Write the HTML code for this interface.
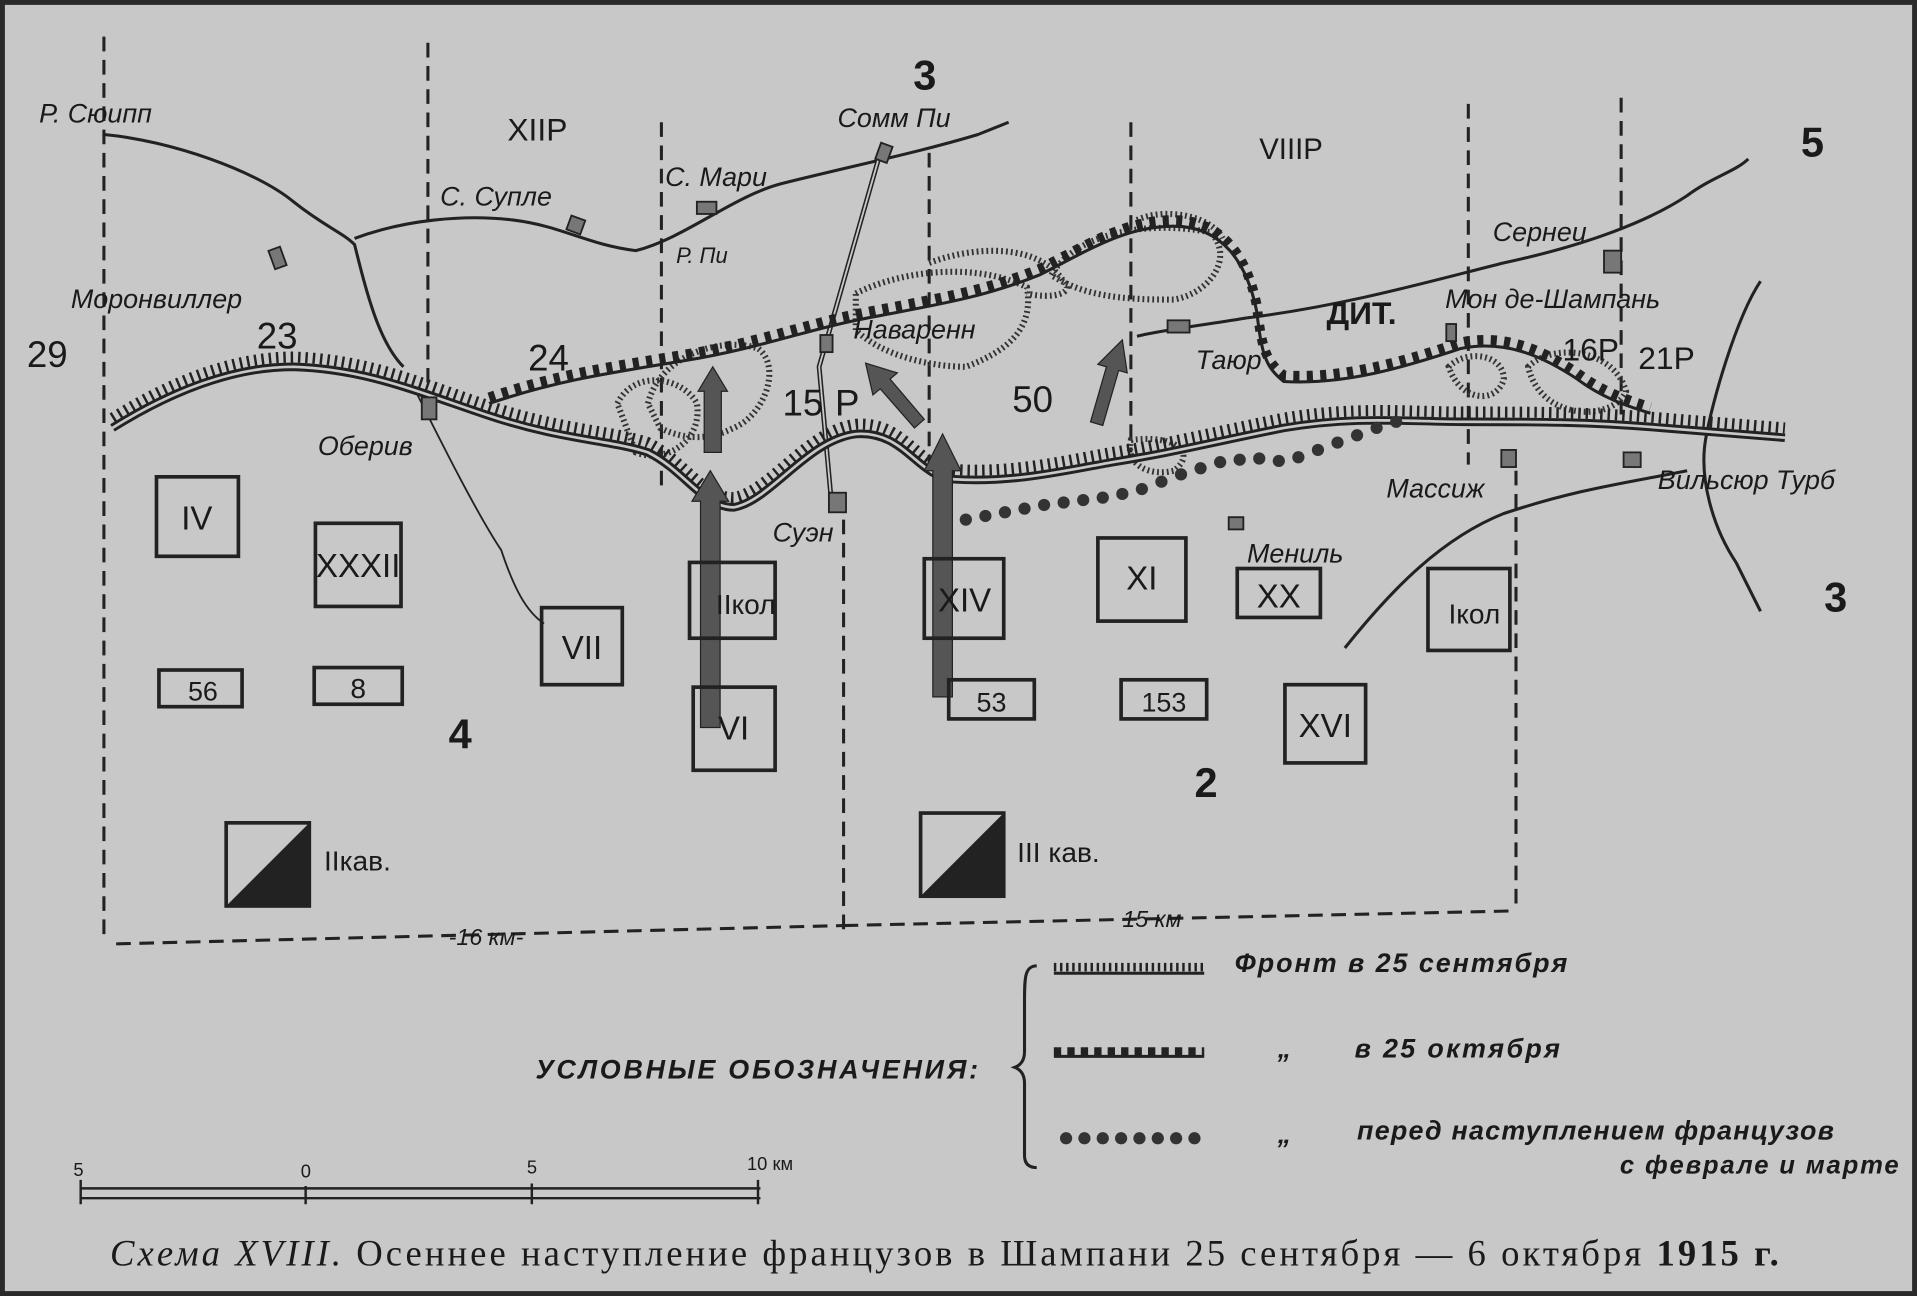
<!DOCTYPE html>
<html><head><meta charset="utf-8"><style>
html,body{margin:0;padding:0;background:#c9c9c9;}
svg{display:block}
text{font-family:"Liberation Sans","DejaVu Sans",sans-serif;fill:#1a1a1a}
.it{font-family:"Liberation Serif",serif;font-style:italic}
.sr{font-family:"Liberation Serif",serif}
</style></head><body>
<svg width="1917" height="1296" viewBox="0 0 1568 1060" preserveAspectRatio="none" xmlns="http://www.w3.org/2000/svg">
<rect x="0" y="0" width="1568" height="1060" fill="#c8c8c8"/>
<rect x="2" y="2" width="1564" height="1056" fill="none" stroke="#2a2a2a" stroke-width="4"/>
<g fill="none" stroke="#222">
<g stroke-width="2.5" stroke-dasharray="12 7">
<path d="M85 30 V770"/><path d="M350 35 V320"/><path d="M541 100 V400"/>
<path d="M760 125 V380"/><path d="M925 100 V370"/><path d="M1201 85 V380"/>
<path d="M1326 80 V345"/><path d="M690 425 V760"/><path d="M1240 385 V745"/>
<path d="M95 772 L690 757"/><path d="M690 757 L1240 745"/>
</g>
<g stroke-width="2.5">
<path d="M85 110 C140 115 210 140 240 165 C265 185 280 190 290 200 C300 240 310 280 330 300"/>
<path d="M290 195 C330 180 380 175 420 180 C460 185 480 200 520 205 C560 195 600 160 640 150 C700 135 750 125 800 110 L825 100"/>
<path d="M1020 260 C1100 250 1170 230 1230 215 C1300 200 1350 180 1380 160 C1400 145 1420 140 1430 130"/>
<path d="M1440 230 C1420 260 1400 330 1395 360 C1390 390 1400 430 1420 460 L1440 500"/>
<path d="M1100 530 C1140 480 1180 440 1230 420 C1290 400 1330 395 1380 385"/>
<path d="M930 275 C950 270 990 265 1020 260"/>
</g>
<path d="M340 320 C360 360 390 420 410 450 C420 480 430 500 445 510" stroke-width="1.5"/>
<path d="M720 125 L670 300 L680 410" stroke-width="4"/>
<path d="M720 125 L670 300 L680 410" stroke="#c8c8c8" stroke-width="1.5"/>
<g stroke-width="5" stroke-dasharray="1.5 2.5" stroke="#333">
<path d="M530 330 C540 290 590 275 620 285 C640 300 625 340 600 350 C580 360 560 360 540 350 Z"/>
<path d="M505 330 C520 300 560 310 570 330 C575 360 545 380 520 370 Z"/>
<path d="M700 240 C740 220 800 215 840 235 C845 265 830 285 790 300 C760 300 720 290 700 270 Z"/>
<path d="M760 215 C800 200 850 200 870 230 C880 240 860 245 840 240"/>
<path d="M860 225 C880 190 940 180 990 190 C1010 210 990 240 960 245 C930 245 890 245 860 225 Z"/>
<path d="M930 180 C950 170 990 175 1000 195"/>
<path d="M925 360 C960 355 980 370 960 385 C940 390 920 380 925 360 Z"/>
<path d="M1250 300 C1270 280 1320 285 1330 320 C1320 345 1260 345 1250 300 Z"/>
<path d="M1185 300 C1200 285 1230 290 1230 310 C1225 330 1195 330 1185 300 Z"/>
</g>
<path d="M92 350 C140 320 190 300 240 300 C300 302 340 320 400 340 C460 360 500 360 530 370 C560 385 575 415 600 415 C630 410 660 360 700 355 C740 352 750 390 780 392 C830 395 870 385 910 378 C960 370 990 362 1050 350 C1110 340 1150 345 1200 345 C1260 345 1300 345 1360 350 L1460 358" stroke="#222" stroke-width="7"/>
<path d="M92 350 C140 320 190 300 240 300 C300 302 340 320 400 340 C460 360 500 360 530 370 C560 385 575 415 600 415 C630 410 660 360 700 355 C740 352 750 390 780 392 C830 395 870 385 910 378 C960 370 990 362 1050 350 C1110 340 1150 345 1200 345 C1260 345 1300 345 1360 350 L1460 358" stroke="#c8c8c8" stroke-width="2.2"/>
<path transform="translate(0,-8)" d="M92 350 C140 320 190 300 240 300 C300 302 340 320 400 340 C460 360 500 360 530 370 C560 385 575 415 600 415 C630 410 660 360 700 355 C740 352 750 390 780 392 C830 395 870 385 910 378 C960 370 990 362 1050 350 C1110 340 1150 345 1200 345 C1260 345 1300 345 1360 350 L1460 358" stroke="#222" stroke-width="9" stroke-dasharray="2 4"/>
<path d="M400 330 C460 310 500 305 560 295 C620 285 660 270 700 262 C760 250 800 245 850 225 C890 205 920 185 960 185 C1000 185 1020 215 1028 255 C1032 290 1035 300 1050 312 C1100 315 1150 300 1195 285 C1230 278 1260 290 1290 310 C1310 325 1330 332 1350 338" stroke="#222" stroke-width="2.5"/>
<path transform="translate(0,-5)" d="M400 330 C460 310 500 305 560 295 C620 285 660 270 700 262 C760 250 800 245 850 225 C890 205 920 185 960 185 C1000 185 1020 215 1028 255 C1032 290 1035 300 1050 312 C1100 315 1150 300 1195 285 C1230 278 1260 290 1290 310 C1310 325 1330 332 1350 338" stroke="#222" stroke-width="8" stroke-dasharray="5 6"/>
</g>
<g fill="#333">
<circle cx="790" cy="425" r="5"/><circle cx="806" cy="422" r="5"/><circle cx="822" cy="419" r="5"/><circle cx="838" cy="416" r="5"/><circle cx="854" cy="413" r="5"/><circle cx="870" cy="411" r="5"/><circle cx="886" cy="409" r="5"/><circle cx="902" cy="407" r="5"/><circle cx="918" cy="404" r="5"/><circle cx="934" cy="400" r="5"/><circle cx="950" cy="394" r="5"/><circle cx="966" cy="388" r="5"/><circle cx="982" cy="383" r="5"/><circle cx="998" cy="378" r="5"/><circle cx="1014" cy="376" r="5"/><circle cx="1030" cy="375" r="5"/><circle cx="1046" cy="377" r="5"/><circle cx="1062" cy="374" r="5"/><circle cx="1078" cy="368" r="5"/><circle cx="1094" cy="362" r="5"/><circle cx="1110" cy="356" r="5"/><circle cx="1126" cy="350" r="5"/><circle cx="1142" cy="345" r="5"/>
</g>
<g fill="#555" stroke="#222" stroke-width="1">
<path d="M573 595 V410 H566 L581 385 L596 410 H589 V595 Z"/>
<path d="M576 370 V320 H571 L583 300 L595 320 H590 V370 Z"/>
<path d="M763 570 V385 H756 L771 355 L786 385 H779 V570 Z"/>
<path d="M748 350 L720 318 L714 323 L708 297 L734 305 L728 310 L756 343 Z"/>
<path d="M892 345 L905 300 L898 298 L918 278 L922 305 L915 303 L902 348 Z"/>
</g>
<g fill="none" stroke="#222" stroke-width="3">
<rect x="128" y="390" width="67" height="65"/>
<rect x="258" y="428" width="70" height="68"/>
<rect x="443" y="497" width="66" height="63"/>
<rect x="564" y="460" width="70" height="62"/>
<rect x="567" y="562" width="67" height="68"/>
<rect x="756" y="457" width="65" height="65"/>
<rect x="898" y="440" width="72" height="68"/>
<rect x="1012" y="465" width="68" height="40"/>
<rect x="1051" y="560" width="66" height="64"/>
<rect x="1168" y="465" width="67" height="67"/>
<rect x="130" y="548" width="68" height="30"/>
<rect x="257" y="546" width="72" height="30"/>
<rect x="776" y="556" width="70" height="32"/>
<rect x="917" y="556" width="70" height="32"/>
<rect x="185" y="673" width="68" height="68"/>
<rect x="753" y="665" width="68" height="68"/>
</g>
<path d="M253 673 L253 741 L185 741 Z" fill="#222"/>
<path d="M821 665 L821 733 L753 733 Z" fill="#222"/>
<g fill="#777" stroke="#222" stroke-width="1.5">
<rect x="718" y="118" width="10" height="14" transform="rotate(20 723 125)"/>
<rect x="222" y="203" width="10" height="16" transform="rotate(-20 227 211)"/>
<rect x="465" y="178" width="12" height="12" transform="rotate(20 471 184)"/>
<rect x="570" y="165" width="16" height="10"/>
<rect x="671" y="274" width="10" height="14"/>
<rect x="678" y="403" width="14" height="16"/>
<rect x="345" y="325" width="12" height="18"/>
<rect x="955" y="262" width="18" height="10"/>
<rect x="1183" y="265" width="8" height="14"/>
<rect x="1312" y="205" width="14" height="18"/>
<rect x="1228" y="368" width="12" height="14"/>
<rect x="1328" y="370" width="14" height="12"/>
<rect x="1005" y="423" width="12" height="10"/>
</g>
<g font-size="27" text-anchor="middle">
<text x="161" y="433">IV</text>
<text x="293" y="472">XXXII</text>
<text x="476" y="539">VII</text>
<text x="610" y="502" font-size="23">IIкол</text>
<text x="600" y="605">VI</text>
<text x="789" y="500">XIV</text>
<text x="934" y="482">XI</text>
<text x="1046" y="497">XX</text>
<text x="1084" y="603">XVI</text>
<text x="1206" y="510" font-size="23">Iкол</text>
<text x="166" y="573" font-size="22">56</text>
<text x="293" y="571" font-size="23">8</text>
<text x="811" y="582" font-size="22">53</text>
<text x="952" y="582" font-size="22">153</text>
</g>
<text x="265" y="712" font-size="23">IIкав.</text>
<text x="832" y="705" font-size="23">III кав.</text>
<g font-size="30">
<text x="22" y="300">29</text><text x="210" y="285">23</text><text x="432" y="303">24</text>
<text x="640" y="340">15</text><text x="683" y="340">P</text><text x="828" y="337">50</text>
<text x="1278" y="295" font-size="26">16Р</text><text x="1340" y="302" font-size="26">21Р</text>
<text x="415" y="115" font-size="26">XIIР</text><text x="1030" y="130" font-size="24">VIIIР</text>
<text x="1085" y="265" font-size="26" font-weight="bold">ДИТ.</text>
</g>
<g font-size="34" font-weight="bold">
<text x="747" y="73">3</text><text x="1473" y="128">5</text><text x="1492" y="500">3</text>
<text x="367" y="612">4</text><text x="977" y="652">2</text>
</g>
<g class="it" font-size="22">
<text x="32" y="100">Р. Сюипп</text>
<text x="360" y="168">С. Супле</text>
<text x="544" y="152">С. Мари</text>
<text x="685" y="104">Сомм Пи</text>
<text x="553" y="215" font-size="18">Р. Пи</text>
<text x="58" y="252">Моронвиллер</text>
<text x="260" y="372">Оберив</text>
<text x="698" y="277">Наваренн</text>
<text x="632" y="443">Суэн</text>
<text x="978" y="302">Таюр</text>
<text x="1221" y="197">Сернеи</text>
<text x="1182" y="252">Мон де-Шампань</text>
<text x="1134" y="407">Массиж</text>
<text x="1356" y="400">Вильсюр Турб</text>
<text x="1020" y="460">Мениль</text>
<text x="367" y="773" font-size="19">-16 км-</text>
<text x="918" y="758" font-size="19">15 км</text>
</g>
<path d="M848 790 C838 790 838 800 838 820 V860 Q838 870 830 873 Q838 876 838 886 V945 Q838 955 848 955" fill="none" stroke="#222" stroke-width="2.5"/>
<g stroke="#222" fill="none">
<path d="M862 796 H985" stroke-width="2.5"/><path d="M862 791 H985" stroke-width="7" stroke-dasharray="2 3"/>
<path d="M862 864 H985" stroke-width="2.5"/><path d="M862 860 H985" stroke-width="7" stroke-dasharray="6 5"/>
</g>
<g fill="#333"><circle cx="872" cy="931" r="5"/><circle cx="887" cy="931" r="5"/><circle cx="902" cy="931" r="5"/><circle cx="917" cy="931" r="5"/><circle cx="932" cy="931" r="5"/><circle cx="947" cy="931" r="5"/><circle cx="962" cy="931" r="5"/><circle cx="977" cy="931" r="5"/></g>
<g class="it" font-size="22" font-weight="bold">
<text x="1010" y="795" textLength="272">Фронт в 25 сентября</text>
<text x="1045" y="865">„</text><text x="1108" y="865" textLength="168">в 25 октября</text>
<text x="1045" y="935">„</text><text x="1110" y="932" textLength="390">перед наступлением французов</text>
<text x="1325" y="960" font-size="21" textLength="228">с феврале и марте</text>
<text x="438" y="882" font-size="22" font-style="italic" textLength="362">УСЛОВНЫЕ   ОБОЗНАЧЕНИЯ:</text>
</g>
<path d="M66 972 H622 M66 980 H622" stroke="#222" stroke-width="2"/>
<path d="M66 965 V985 M250 970 V985 M435 968 V985 M620 965 V985" stroke="#222" stroke-width="2"/>
<g font-size="15"><text x="60" y="962">5</text><text x="246" y="963">0</text><text x="431" y="960">5</text><text x="611" y="957">10 км</text></g>
<text x="90" y="1035" class="sr" font-size="30" textLength="1365"><tspan font-style="italic">Схема XVIII.</tspan> Осеннее наступление французов в Шампани 25 сентября — 6 октября <tspan font-weight="bold">1915 г.</tspan></text>
</svg>
</body></html>
